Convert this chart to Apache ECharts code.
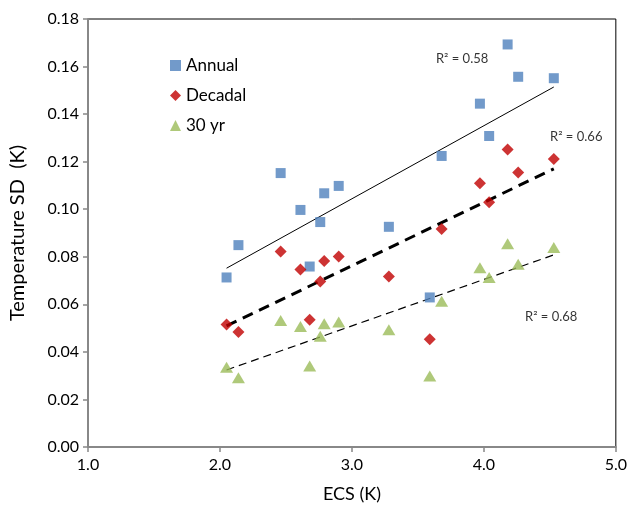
<!DOCTYPE html>
<html><head><meta charset="utf-8">
<script src="https://cdn.jsdelivr.net/npm/echarts@6/dist/echarts.min.js"></script>
<style>html,body{margin:0;padding:0;background:#fff}#c{width:630px;height:510px}</style>
</head><body><div id="c"></div>
<script>
var ecs = [2.05, 2.14, 2.46, 2.61, 2.68, 2.76, 2.79, 2.90, 3.28, 3.59, 3.68, 3.97, 4.04, 4.18, 4.26, 4.53];
var annual = [0.0713, 0.0849, 0.1152, 0.0997, 0.0759, 0.0946, 0.1067, 0.1098, 0.0926, 0.0629, 0.1224, 0.1444, 0.1308, 0.1693, 0.1557, 0.1551];
var decadal = [0.0515, 0.0484, 0.0822, 0.0747, 0.0535, 0.0696, 0.0782, 0.0801, 0.0717, 0.0453, 0.0917, 0.1109, 0.1029, 0.1251, 0.1154, 0.1211];
var thirty = [0.0335, 0.0291, 0.0532, 0.0507, 0.0341, 0.0466, 0.0518, 0.0526, 0.0493, 0.0299, 0.0613, 0.0754, 0.0713, 0.0855, 0.0769, 0.0839];
var trendAnnual = [[2.05, 0.0752], [4.53, 0.1514]];
var trendDecadal = [[2.05, 0.0509], [4.53, 0.1170]];
var trendThirty = [[2.05, 0.0324], [4.53, 0.0808]];
var r2Labels = [{ text: 'R² = 0.58', x: 3.835, y: 0.1634 }, { text: 'R² = 0.66', x: 4.70, y: 0.1305 }, { text: 'R² = 0.68', x: 4.51, y: 0.0547 }];
var xTicks = [1, 2, 3, 4, 5];

function pairs(ys) { return ecs.map(function (x, i) { return [x, ys[i]]; }); }
var font = 'Lato, "Open Sans", sans-serif';
var chart = echarts.init(document.getElementById('c'), null, { renderer: 'canvas' });
chart.setOption({
  animation: false,
  textStyle: { fontFamily: font },
  grid: { left: 85, right: 13, top: 19, bottom: 63, show: true, borderColor: '#000', borderWidth: 1 },
  legend: {
    orient: 'vertical', left: 165, top: 52, itemWidth: 11, itemHeight: 11, itemGap: 13,
    textStyle: { fontSize: 17, color: '#000', fontFamily: font },
    data: [{ name: 'Annual', icon: 'rect' }, { name: 'Decadal', icon: 'diamond' }, { name: '30 yr', icon: 'triangle' }]
  },
  xAxis: {
    type: 'value', min: xTicks[0], max: xTicks[xTicks.length - 1], interval: 1,
    name: 'ECS (K)', nameLocation: 'middle', nameGap: 38,
    nameTextStyle: { fontSize: 18, color: '#000', fontFamily: font },
    axisLine: { lineStyle: { color: '#888', width: 2 } },
    axisTick: { show: true, length: 5, lineStyle: { color: '#888', width: 1.5 } },
    axisLabel: { fontSize: 16, color: '#000', margin: 10, fontFamily: font, formatter: function (v) { return v.toFixed(1); } },
    splitLine: { show: false }
  },
  yAxis: {
    type: 'value', min: 0, max: 0.18, interval: 0.02,
    name: 'Temperature SD  (K)', nameLocation: 'middle', nameGap: 60,
    nameTextStyle: { fontSize: 20, color: '#000', fontFamily: font },
    axisLine: { show: true, lineStyle: { color: '#888', width: 2 } },
    axisTick: { show: true, length: 5, lineStyle: { color: '#888', width: 1.5 } },
    axisLabel: { fontSize: 16, color: '#000', margin: 9, fontFamily: font, formatter: function (v) { return v.toFixed(2); } },
    splitLine: { show: false }
  },
  series: [
    { name: 'trendA', type: 'line', data: trendAnnual, symbol: 'none', silent: true, lineStyle: { color: '#000', width: 1 }, z: 1 },
    { name: 'trendD', type: 'line', data: trendDecadal, symbol: 'none', silent: true, lineStyle: { color: '#000', width: 3, type: [11, 7] }, z: 1 },
    { name: 'trendT', type: 'line', data: trendThirty, symbol: 'none', silent: true, lineStyle: { color: '#000', width: 1.2, type: [8, 5] }, z: 1 },
    { name: 'Annual', type: 'scatter', data: pairs(annual), symbol: 'rect', symbolSize: 10, itemStyle: { color: '#4F81BD' }, z: 3 },
    { name: 'Decadal', type: 'scatter', data: pairs(decadal), symbol: 'diamond', symbolSize: 12, itemStyle: { color: '#C00000' }, z: 3 },
    { name: '30 yr', type: 'scatter', data: pairs(thirty), symbol: 'triangle', symbolSize: [13, 11], itemStyle: { color: '#9BBB59' }, z: 3 },
    {
      name: 'r2', type: 'scatter', symbolSize: 0, silent: true,
      data: r2Labels.map(function (d) { return { value: [d.x, d.y], name: d.text }; }),
      label: { show: true, position: 'inside', formatter: '{b}', fontSize: 13, color: '#000', fontFamily: font }
    }
  ]
});
</script></body></html>
